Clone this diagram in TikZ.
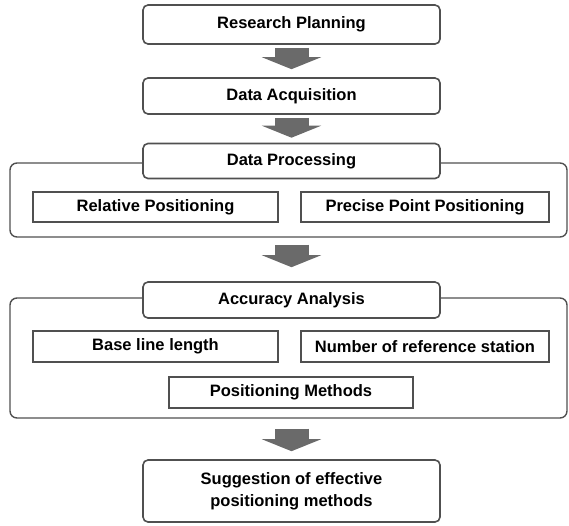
\documentclass[tikz,border=0pt]{standalone}
\usepackage{fontspec}
\setmainfont{Liberation Sans}
\usetikzlibrary{positioning,arrows.meta}
\definecolor{edge}{HTML}{505050}
\definecolor{arrowgray}{HTML}{6A6A6A}

\begin{document}
\begin{tikzpicture}[x=1pt,y=-1pt,font=\fontsize{16.5}{19.5}\selectfont\bfseries,
step box/.style={draw=edge,line width=1.6pt,rounded corners=5pt,fill=white,align=center,minimum width=297pt,inner sep=0pt},
group/.style={draw=edge,line width=1.4pt,rounded corners=7pt,minimum width=557pt,inner sep=0pt},
item/.style={draw=edge,line width=1.6pt,fill=white,minimum height=30pt,inner sep=0pt},
flow/.style={draw=arrowgray,line width=34pt,-{Triangle[length=12pt 0,width=59pt 0]},arrowgray}]
\useasboundingbox (0,0) rectangle (569,525);
% groups behind the headers
\node[group,minimum height=74pt] (proc) at (288.5,200) {};
\node[group,minimum height=120pt] (acc) at (288.5,358) {};
% main steps
\node[step box,minimum height=39pt] (plan) at (291.5,24.5) {Research Planning};
\node[step box,minimum height=36pt] (acq) at (291.5,96) {Data Acquisition};
\node[step box,minimum height=35pt] (prochead) at (291.5,161) {Data Processing};
\node[step box,minimum height=36pt] (acchead) at (291.5,300) {Accuracy Analysis};
\node[step box,minimum height=62pt,font=\fontsize{16.5}{22}\selectfont\bfseries] (sugg) at (291.5,491) {Suggestion of effective\\positioning methods};
% items inside the groups
\node[item,minimum width=245pt] (rel) at (155.5,207) {Relative Positioning};
\node[item,minimum width=248pt] (ppp) at (425,207) {Precise Point Positioning};
\node[item,minimum width=245pt,minimum height=31pt] (base) at (155.5,346.5) {Base line length};
\node[item,minimum width=248pt,minimum height=31pt] (num) at (425,346.5) {Number of reference station};
\node[item,minimum width=244pt,minimum height=31pt] (meth) at (291,392.5) {Positioning Methods};
% block arrows
\draw[flow,shorten <=3pt,shorten >=8pt] (plan.south) -- (acq.north);
\draw[flow,shorten <=3pt,shorten >=5pt] (acq.south) -- (prochead.north);
\draw[flow,shorten <=7pt,shorten >=14pt] ([xshift=3pt]proc.south) -- ([xshift=3pt]proc.south |- acchead.north);
\draw[flow,shorten <=10pt,shorten >=8pt] ([xshift=3pt]acc.south) -- ([xshift=3pt]acc.south |- sugg.north);
\end{tikzpicture}
\end{document}
